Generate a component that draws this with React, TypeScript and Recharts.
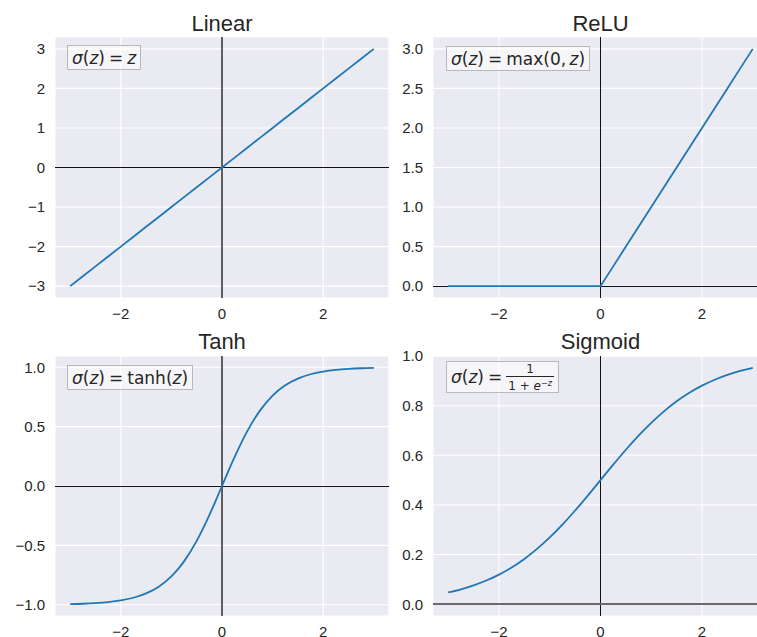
import React from 'react';
import { LineChart, Line, XAxis, YAxis, CartesianGrid, ReferenceLine } from 'recharts';

const zValues = [-3, -2.75, -2.5, -2.25, -2, -1.75, -1.5, -1.25, -1, -0.75, -0.5, -0.25, 0, 0.25, 0.5, 0.75, 1, 1.25, 1.5, 1.75, 2, 2.25, 2.5, 2.75, 3];
const linearValues = [-3, -2.75, -2.5, -2.25, -2, -1.75, -1.5, -1.25, -1, -0.75, -0.5, -0.25, 0, 0.25, 0.5, 0.75, 1, 1.25, 1.5, 1.75, 2, 2.25, 2.5, 2.75, 3];
const reluValues = [0, 0, 0, 0, 0, 0, 0, 0, 0, 0, 0, 0, 0, 0.25, 0.5, 0.75, 1, 1.25, 1.5, 1.75, 2, 2.25, 2.5, 2.75, 3];
const tanhValues = [-0.9951, -0.9919, -0.9866, -0.978, -0.964, -0.9414, -0.9051, -0.8483, -0.7616, -0.6351, -0.4621, -0.2449, 0, 0.2449, 0.4621, 0.6351, 0.7616, 0.8483, 0.9051, 0.9414, 0.964, 0.978, 0.9866, 0.9919, 0.9951];
const sigmoidValues = [0.0474, 0.0601, 0.0759, 0.0953, 0.1192, 0.148, 0.1824, 0.2227, 0.2689, 0.3208, 0.3775, 0.4378, 0.5, 0.5622, 0.6225, 0.6792, 0.7311, 0.7773, 0.8176, 0.852, 0.8808, 0.9047, 0.9241, 0.9399, 0.9526];

const xTicks = [-2, 0, 2];
const linearTicks = [-3, -2, -1, 0, 1, 2, 3];
const reluTicks = [0, 0.5, 1, 1.5, 2, 2.5, 3];
const tanhTicks = [-1, -0.5, 0, 0.5, 1];
const sigmoidTicks = [0, 0.2, 0.4, 0.6, 0.8, 1];

const titles = ['Linear', 'ReLU', 'Tanh', 'Sigmoid'];

const TEXT = '#262626';
const FONT = '"Liberation Sans", Arial, sans-serif';
const MATH = '"DejaVu Sans", sans-serif';

const fmtInt = (v: number) => String(v).replace('-', '\u2212');
const fmt1 = (v: number) => v.toFixed(1).replace('-', '\u2212');

const build = (vals: number[]) => zValues.map((z, i) => ({ z, v: vals[i] }));

type LineStyle = { stroke: string; w: number; crisp?: boolean };

type PanelProps = {
  left: number;
  top: number;
  width: number;
  height: number;
  margin: { top: number; right: number; bottom: number; left: number };
  yWidth: number;
  xHeight: number;
  values: number[];
  yDomain: [number, number];
  yTicks: number[];
  yFmt: (v: number) => string;
  curve: 'linear' | 'monotone';
  vLine: LineStyle;
  hLine: LineStyle;
};

const Panel = (p: PanelProps) => (
  <div style={{ position: 'absolute', left: p.left, top: p.top }}>
    <LineChart width={p.width} height={p.height} data={build(p.values)} margin={p.margin}>
      <CartesianGrid fill="#EAEAF2" stroke="#FFFFFF" strokeWidth={1.1} strokeDasharray="" />
      <XAxis
        dataKey="z"
        type="number"
        domain={[-3.3, 3.3]}
        ticks={xTicks}
        allowDataOverflow
        axisLine={false}
        tickLine={false}
        tickSize={6}
        tickMargin={4}
        height={p.xHeight}
        tickFormatter={fmtInt}
        tick={{ fill: TEXT, fontSize: 15, fontFamily: FONT }}
        interval={0}
      />
      <YAxis
        type="number"
        domain={p.yDomain}
        ticks={p.yTicks}
        allowDataOverflow
        axisLine={false}
        tickLine={false}
        tickSize={6}
        tickMargin={4}
        width={p.yWidth}
        tickFormatter={p.yFmt}
        tick={{ fill: TEXT, fontSize: 15, fontFamily: FONT }}
        interval={0}
      />
      <ReferenceLine
        x={0}
        stroke={p.vLine.stroke}
        strokeWidth={p.vLine.w}
        shapeRendering={p.vLine.crisp ? 'crispEdges' : undefined}
      />
      <ReferenceLine
        y={0}
        stroke={p.hLine.stroke}
        strokeWidth={p.hLine.w}
        shapeRendering={p.hLine.crisp ? 'crispEdges' : undefined}
      />
      <Line
        type={p.curve}
        dataKey="v"
        stroke="#1F77B4"
        strokeWidth={1.8}
        dot={false}
        isAnimationActive={false}
      />
    </LineChart>
  </div>
);

const Title = ({ text, cx, top }: { text: string; cx: number; top: number }) => (
  <div
    style={{
      position: 'absolute',
      left: cx - 100,
      width: 200,
      top,
      textAlign: 'center',
      fontFamily: FONT,
      fontSize: 22,
      lineHeight: '22px',
      color: TEXT,
      whiteSpace: 'nowrap',
    }}
  >
    {text}
  </div>
);

const Box = ({ left, top, height, children }: { left: number; top: number; height: number; children: React.ReactNode }) => (
  <div
    style={{
      position: 'absolute',
      left,
      top,
      height,
      boxSizing: 'border-box',
      padding: '0 4px',
      display: 'flex',
      alignItems: 'center',
      background: 'rgba(255,255,255,0.55)',
      border: '1px solid #B8B8B8',
      fontFamily: MATH,
      fontSize: 17,
      color: TEXT,
      whiteSpace: 'pre',
    }}
  >
    {children}
  </div>
);

const I = ({ children }: { children: React.ReactNode }) => <span style={{ fontStyle: 'italic' }}>{children}</span>;
const Eq = () => <span style={{ margin: '0 4px' }}>=</span>;
const Sig = () => (
  <>
    <I>σ</I>
    <span>(</span>
    <I>z</I>
    <span>)</span>
  </>
);

export default function App() {
  const topMargin = { top: 37, right: 11, bottom: 0, left: 0 };
  const rightTopMargin = { top: 37, right: 12, bottom: 0, left: 0 };
  const botMargin = { top: 36, right: 11, bottom: 0, left: 0 };
  const rightBotMargin = { top: 36, right: 12, bottom: 0, left: 0 };
  const thin: LineStyle = { stroke: '#111111', w: 1, crisp: true };
  const thick: LineStyle = { stroke: '#5E5E5E', w: 2, crisp: true };
  return (
    <div
      style={{
        position: 'absolute',
        left: 0,
        top: 0,
        width: 757,
        height: 637,
        overflow: 'hidden',
        background: '#FFFFFF',
      }}
    >
      <Panel
        left={0}
        top={0}
        width={400}
        height={340}
        margin={topMargin}
        yWidth={55}
        xHeight={42}
        values={linearValues}
        yDomain={[-3.3, 3.3]}
        yTicks={linearTicks}
        yFmt={fmtInt}
        curve="linear"
        vLine={thick}
        hLine={thin}
      />
      <Panel
        left={380}
        top={0}
        width={400}
        height={340}
        margin={rightTopMargin}
        yWidth={53}
        xHeight={42}
        values={reluValues}
        yDomain={[-0.15, 3.15]}
        yTicks={reluTicks}
        yFmt={fmt1}
        curve="linear"
        vLine={thin}
        hLine={thin}
      />
      <Panel
        left={0}
        top={320}
        width={400}
        height={320}
        margin={botMargin}
        yWidth={55}
        xHeight={24}
        values={tanhValues}
        yDomain={[-1.0951, 1.0951]}
        yTicks={tanhTicks}
        yFmt={fmt1}
        curve="monotone"
        vLine={thick}
        hLine={thin}
      />
      <Panel
        left={380}
        top={320}
        width={400}
        height={320}
        margin={rightBotMargin}
        yWidth={53}
        xHeight={24}
        values={sigmoidValues}
        yDomain={[-0.0476, 1.0003]}
        yTicks={sigmoidTicks}
        yFmt={fmt1}
        curve="monotone"
        vLine={thin}
        hLine={{ stroke: '#6A6A6A', w: 2, crisp: true }}
      />

      <Title text={titles[0]} cx={222} top={13} />
      <Title text={titles[1]} cx={600.5} top={13} />
      <Title text={titles[2]} cx={222} top={331} />
      <Title text={titles[3]} cx={600.5} top={331} />

      <Box left={67} top={45} height={25}>
        <Sig />
        <Eq />
        <I>z</I>
      </Box>
      <Box left={446} top={46} height={25}>
        <Sig />
        <Eq />
        <span>{'max(0,\u2009'}</span>
        <I>z</I>
        <span>)</span>
      </Box>
      <Box left={67} top={365} height={25}>
        <Sig />
        <Eq />
        <span>tanh(</span>
        <I>z</I>
        <span>)</span>
      </Box>
      <Box left={446} top={361} height={32}>
        <Sig />
        <Eq />
        <span style={{ display: 'inline-flex', flexDirection: 'column', alignItems: 'center', fontSize: 12, lineHeight: '12px' }}>
          <span style={{ paddingBottom: 1 }}>1</span>
          <span style={{ borderTop: '1px solid #262626', padding: '1px 2px 0 2px' }}>
            <span>{'1 + '}</span>
            <I>e</I>
            <sup style={{ fontSize: 8, verticalAlign: '4px' }}>
              <span>−</span>
              <I>z</I>
            </sup>
          </span>
        </span>
      </Box>
    </div>
  );
}
